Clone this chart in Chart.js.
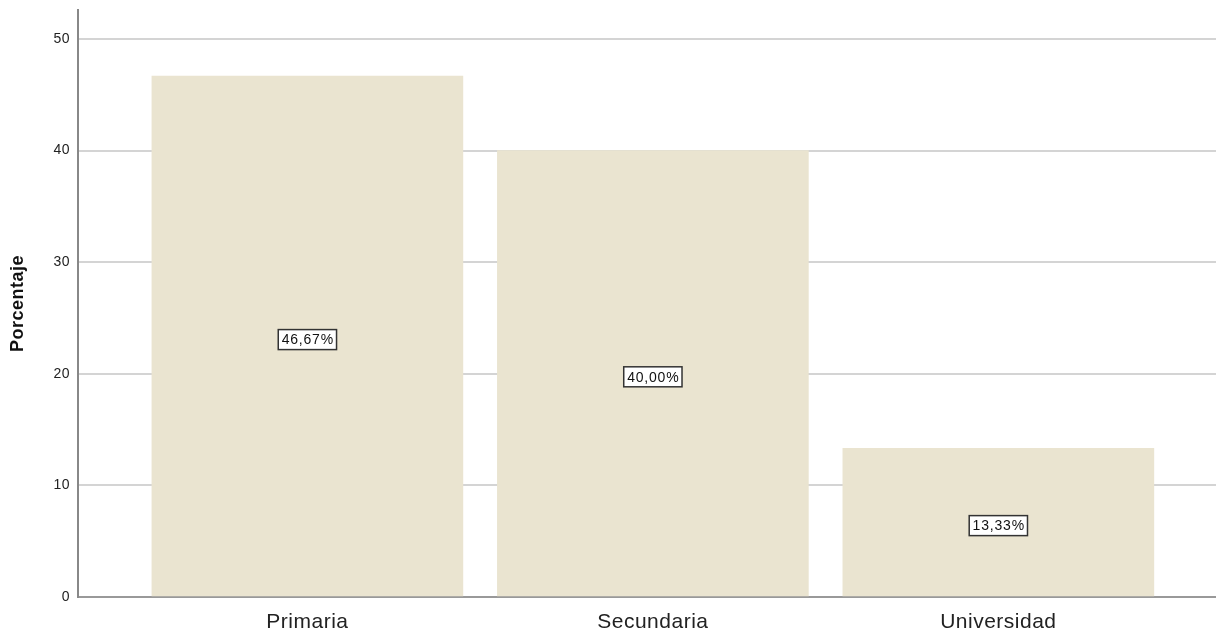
<!DOCTYPE html>
<html>
<head>
<meta charset="utf-8">
<script src="https://cdn.jsdelivr.net/npm/chart.js@4/dist/chart.umd.min.js"></script>
<style>
  html, body { margin: 0; padding: 0; background: #fff; }
  #wrap { width: 1216px; height: 631px; position: relative; }
</style>
</head>
<body>
<div id="wrap"><canvas id="chart"></canvas></div>
<script>
// ===== datos =====
const categorias  = ['Primaria', 'Secundaria', 'Universidad'];
const porcentajes = [46.67, 40.00, 13.33];
const yTicks      = [0, 10, 20, 30, 40, 50];

const BAR_COLOR = '#eae4d0';
const FONT = '"Liberation Sans", Arial, sans-serif';

// SPSS pinta el texto algo más ancho que Arial
const spacing = {
  id: 'spacing',
  beforeDraw(chart) { chart.ctx.letterSpacing = '0.5px'; },
};

// etiquetas tipo SPSS: caja blanca con borde en el centro de la barra
const boxLabels = {
  id: 'boxLabels',
  afterDatasetsDraw(chart) {
    const ctx = chart.ctx;
    const meta = chart.getDatasetMeta(0);
    const yScale = chart.scales.y;
    ctx.save();
    ctx.letterSpacing = '0.8px';
    ctx.font = '14px ' + FONT;
    ctx.textAlign = 'center';
    ctx.textBaseline = 'middle';
    meta.data.forEach((bar, i) => {
      const v = porcentajes[i];
      const txt = v.toFixed(2).replace('.', ',') + '%';
      const cx = bar.x;
      const cy = yScale.getPixelForValue(v / 2) + 3;
      const w = ctx.measureText(txt).width + 6;
      const h = 20;
      ctx.fillStyle = '#fff';
      ctx.fillRect(cx - w / 2, cy - h / 2, w, h);
      ctx.strokeStyle = '#333';
      ctx.lineWidth = 1.5;
      ctx.strokeRect(cx - w / 2, cy - h / 2, w, h);
      ctx.fillStyle = '#111';
      ctx.fillText(txt, cx + 0.4, cy + 1);
    });
    ctx.restore();
  }
};

new Chart(document.getElementById('chart').getContext('2d'), {
  type: 'bar',
  data: {
    datasets: [{
      label: 'Porcentaje',
      data: porcentajes.map((v, i) => ({ x: i, y: v })),
      backgroundColor: BAR_COLOR,
      borderWidth: 0,
      barThickness: 311,
    }],
  },
  options: {
    responsive: true,
    maintainAspectRatio: false,
    animation: false,
    layout: { padding: { top: 10, right: 0, bottom: 0, left: 0 } },
    plugins: { legend: { display: false }, tooltip: { enabled: false } },
    scales: {
      x: {
        type: 'linear',
        offset: false,
        min: -0.664,
        max: 2.63,
        afterBuildTicks: s => { s.ticks = categorias.map((_, i) => ({ value: i })); },
        afterFit: s => { s.height = 34; s.paddingLeft = 0; s.paddingRight = 0; },
        grid: { display: false },
        border: { color: '#999', width: 2 },
        ticks: {
          autoSkip: false,
          maxRotation: 0,
          padding: 5,
          color: '#222',
          font: { family: FONT, size: 21 },
          callback: v => categorias[v] ?? '',
        },
      },
      y: {
        min: 0,
        max: 52.6,
        afterBuildTicks: s => { s.ticks = yTicks.map(v => ({ value: v })); },
        afterFit: s => { s.width = 78; s.paddingTop = 0; s.paddingBottom = 0; },
        grid: { color: '#d4d4d4', lineWidth: 2, drawTicks: false },
        border: { color: '#888', width: 2 },
        ticks: {
          padding: 8,
          color: '#222',
          font: { family: FONT, size: 14 },
        },
        title: {
          display: true,
          text: 'Porcentaje',
          color: '#111',
          padding: { top: 7, bottom: 0 },
          font: { family: FONT, size: 18, weight: 'bold' },
        },
      },
    },
  },
  plugins: [spacing, boxLabels],
});
</script>
</body>
</html>
